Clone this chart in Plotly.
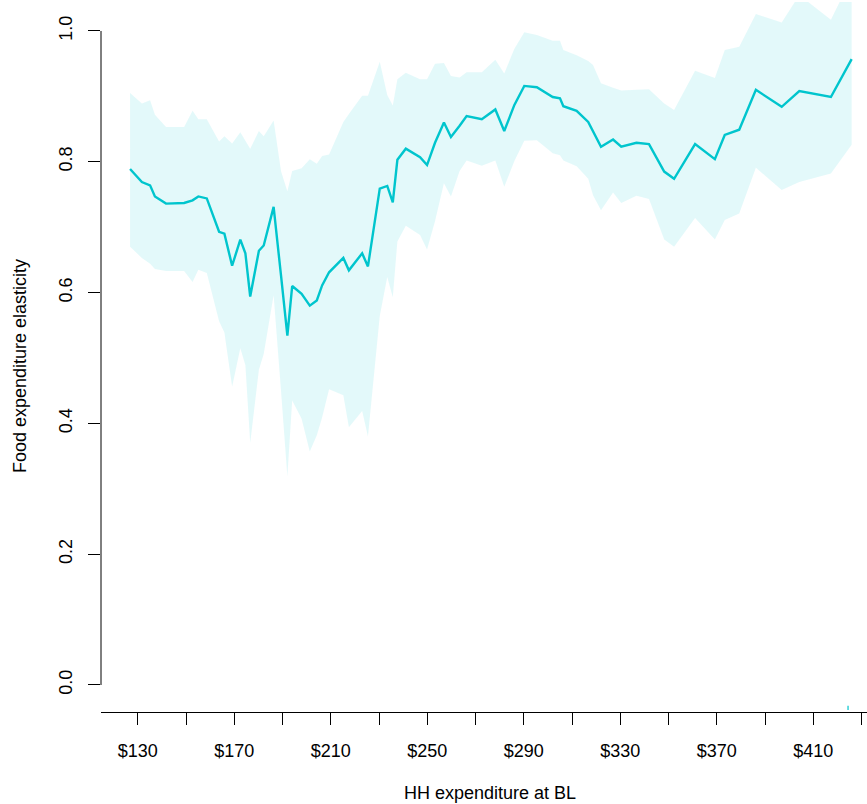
import plotly.graph_objects as go

# Household expenditure at baseline (USD) and estimated food expenditure elasticity
expenditure = [126.8, 131.7, 135.1, 137.1, 141.7, 145.4, 149.2, 152.7, 155.1, 158.6,
               163.7, 165.9, 169.1, 172.5, 174.6, 176.6, 180.2, 182.2, 186.3, 189.4,
               192.0, 194.0, 197.9, 201.3, 204.2, 206.4, 209.3, 215.2, 217.5, 223.0,
               225.4, 230.3, 233.4, 235.7, 237.6, 241.1, 247.0, 249.9, 253.2, 256.9,
               259.8, 263.4, 266.3, 272.6, 278.2, 281.9, 286.1, 290.2, 295.4, 302.0,
               305.0, 306.4, 311.9, 316.7, 318.7, 322.0, 327.0, 330.4, 336.7, 341.9,
               348.2, 352.3, 361.0, 369.2, 373.3, 379.3, 386.2, 396.9, 404.2, 417.3,
               425.9]

elasticity = [0.789, 0.769, 0.764, 0.747, 0.736, 0.736, 0.737, 0.741, 0.747, 0.744,
              0.693, 0.690, 0.641, 0.681, 0.660, 0.594, 0.664, 0.672, 0.731, 0.625,
              0.534, 0.610, 0.598, 0.580, 0.588, 0.611, 0.631, 0.653, 0.634, 0.660,
              0.640, 0.759, 0.763, 0.738, 0.803, 0.820, 0.807, 0.795, 0.829, 0.860,
              0.838, 0.855, 0.870, 0.865, 0.880, 0.847, 0.887, 0.916, 0.914, 0.899,
              0.897, 0.885, 0.878, 0.861, 0.847, 0.823, 0.834, 0.823, 0.829, 0.827,
              0.785, 0.774, 0.827, 0.804, 0.841, 0.849, 0.910, 0.884, 0.908, 0.899,
              0.957]

ci_upper = [0.905, 0.889, 0.894, 0.872, 0.853, 0.853, 0.853, 0.878, 0.865, 0.865,
            0.831, 0.839, 0.828, 0.845, 0.833, 0.820, 0.847, 0.839, 0.863, 0.785,
            0.755, 0.786, 0.790, 0.804, 0.797, 0.809, 0.811, 0.861, 0.873, 0.901,
            0.901, 0.953, 0.902, 0.886, 0.926, 0.936, 0.926, 0.926, 0.950, 0.951,
            0.931, 0.929, 0.937, 0.937, 0.956, 0.935, 0.973, 0.998, 0.994, 0.985,
            0.985, 0.971, 0.963, 0.954, 0.948, 0.920, 0.913, 0.909, 0.910, 0.911,
            0.889, 0.879, 0.939, 0.928, 0.971, 0.976, 1.026, 1.013, 1.055, 1.017,
            1.082]

ci_lower = [0.670, 0.653, 0.644, 0.636, 0.633, 0.633, 0.633, 0.616, 0.635, 0.630,
            0.556, 0.539, 0.456, 0.515, 0.489, 0.370, 0.482, 0.506, 0.596, 0.448,
            0.319, 0.435, 0.407, 0.357, 0.382, 0.409, 0.452, 0.443, 0.394, 0.419,
            0.380, 0.564, 0.624, 0.593, 0.678, 0.702, 0.688, 0.666, 0.709, 0.767,
            0.747, 0.786, 0.802, 0.794, 0.802, 0.762, 0.801, 0.832, 0.833, 0.813,
            0.810, 0.802, 0.793, 0.774, 0.749, 0.726, 0.753, 0.737, 0.748, 0.743,
            0.681, 0.670, 0.714, 0.681, 0.711, 0.721, 0.791, 0.757, 0.769, 0.782,
            0.826]

# Rug mark near the bottom of the panel
rug_x = [424.4]
rug_y = [-0.035]

x_tick_vals = [130, 150, 170, 190, 210, 230, 250, 270, 290, 310, 330, 350, 370, 390, 410, 430]
x_tick_text = ["$130", "", "$170", "", "$210", "", "$250", "", "$290", "", "$330", "",
               "$370", "", "$410", ""]
y_tick_vals = [0.0, 0.2, 0.4, 0.6, 0.8, 1.0]
y_tick_text = ["0.0", "0.2", "0.4", "0.6", "0.8", "1.0"]

TEAL = "#00C5CD"
BAND = "rgba(0,197,205,0.11)"
FONT = "Liberation Sans, Arial, sans-serif"
FS = 18

W, H = 867, 804
ML, MR, MT, MB = 101, 0, 2, 92
plot_w = W - ML - MR
plot_h = H - MT - MB

fig = go.Figure()

fig.add_trace(go.Scatter(
    x=expenditure + expenditure[::-1],
    y=ci_upper + ci_lower[::-1],
    fill="toself", fillcolor=BAND,
    line=dict(width=0), mode="lines",
    hoverinfo="skip", showlegend=False,
))

fig.add_trace(go.Scatter(
    x=expenditure, y=elasticity, mode="lines",
    line=dict(color=TEAL, width=2.4),
    showlegend=False,
))

fig.add_trace(go.Scatter(
    x=rug_x, y=rug_y, mode="markers",
    marker=dict(symbol="line-ns", size=3, line=dict(color=TEAL, width=1.2)),
    showlegend=False,
))

# y axis line spans only the labelled tick range
fig.add_shape(type="line", xref="paper", yref="y",
              x0=0, x1=0, y0=min(y_tick_vals), y1=max(y_tick_vals),
              line=dict(color="black", width=1))

fig.update_layout(
    width=W, height=H,
    margin=dict(l=ML, r=MR, t=MT, b=MB, pad=0),
    paper_bgcolor="white", plot_bgcolor="white",
    font=dict(family=FONT, size=FS, color="black"),
    xaxis=dict(
        range=[114.75, 432.26],
        tickmode="array", tickvals=x_tick_vals, ticktext=x_tick_text,
        ticks="outside", ticklen=12, tickwidth=1, tickcolor="black",
        showline=True, linecolor="black", linewidth=1,
        showgrid=False, zeroline=False,
        ticklabelstandoff=10,
        tickfont=dict(family=FONT, size=FS, color="black"),
    ),
    yaxis=dict(
        range=[-0.0413, 1.0443],
        tickmode="array", tickvals=y_tick_vals, ticktext=y_tick_text,
        tickangle=-90,
        ticks="outside", ticklen=12, tickwidth=1, tickcolor="black",
        showline=False, showgrid=False, zeroline=False,
        ticklabelstandoff=9,
        tickfont=dict(family=FONT, size=FS, color="black"),
    ),
    annotations=[
        dict(text="HH expenditure at BL", xref="paper", yref="paper",
             x=(490 - ML) / plot_w, y=-(793 - (H - MB)) / plot_h,
             xanchor="center", yanchor="middle", showarrow=False,
             font=dict(family=FONT, size=FS, color="black")),
        dict(text="Food expenditure elasticity", xref="paper", yref="paper",
             x=(20 - ML) / plot_w, y=((H - MB) - 366) / plot_h,
             textangle=-90, xanchor="center", yanchor="middle", showarrow=False,
             font=dict(family=FONT, size=FS, color="black")),
    ],
)

fig.write_html("out.html")
